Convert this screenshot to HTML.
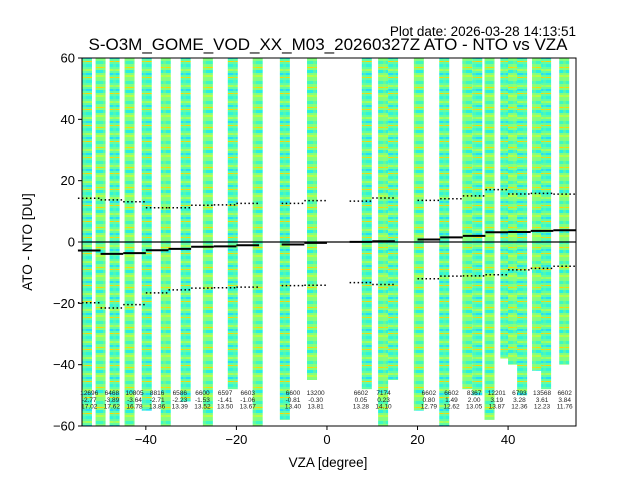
<!DOCTYPE html>
<html><head><meta charset="utf-8"><style>
html,body{margin:0;padding:0;background:#fff;}
svg{display:block;font-family:"Liberation Sans","DejaVu Sans",sans-serif;}
</style></head><body>
<svg id="chart" width="640" height="480" viewBox="0 0 640 480">
<defs>
<pattern id="stripesA" width="10" height="16" patternUnits="userSpaceOnUse">
<rect width="10" height="16" fill="#5efca8"/>
<rect y="0" width="10" height="3" fill="#30f5d8"/>
<rect y="5" width="10" height="2" fill="#a8ff58"/>
<rect y="9" width="10" height="2" fill="#20e0f8"/>
<rect y="13" width="10" height="1" fill="#ffd400"/>
<rect x="3" y="0" width="3" height="16" fill="#70ff90" opacity="0.4"/>
</pattern>
<pattern id="stripesB" width="10" height="20" patternUnits="userSpaceOnUse">
<rect width="10" height="20" fill="#80ff80"/>
<rect y="1" width="10" height="3" fill="#40f8c0"/>
<rect y="7" width="10" height="1" fill="#ffd800"/>
<rect y="10" width="10" height="3" fill="#28f0e0"/>
<rect y="15" width="10" height="2" fill="#b8ff48"/>
<rect x="3" y="0" width="3" height="20" fill="#90ff70" opacity="0.4"/>
</pattern>
</defs>
<g id="cols"></g>
<g id="stats"></g>
<rect x="82" y="58" width="494" height="368" fill="none" stroke="#000" stroke-width="1"/>
<g id="axes"></g>
<g id="labels" font-size="6.5" fill="#222" text-anchor="middle"></g>
<text x="576" y="36" font-size="13.5" text-anchor="end">Plot date: 2026-03-28 14:13:51</text>
<text x="328" y="50" font-size="17" text-anchor="middle">S-O3M_GOME_VOD_XX_M03_20260327Z ATO - NTO vs VZA</text>
<text x="328" y="467" font-size="13.5" text-anchor="middle">VZA [degree]</text>
<text transform="translate(32,242) rotate(-90)" font-size="13.5" text-anchor="middle">ATO - NTO [DU]</text>
</svg>
<script>
const colX=[-53.0,-50.0,-46.9,-43.6,-39.8,-35.6,-31.2,-26.3,-20.8,-15.3,-9.3,-3.3,8.8,12.4,14.6,20.3,25.9,31.0,33.2,35.9,39.4,41.1,43.1,46.4,48.4,52.4];
const colBottom=[-60,-60,-60,-60,-55,-60,-52,-60,-48,-60,-58,-45,-48,-60,-45,-55,-60,-48,-50,-58,-38,-40,-50,-42,-48,-40];
const binCenters=[-52.5,-47.5,-42.5,-37.5,-32.5,-27.5,-22.5,-17.5,-7.5,-2.5,7.5,12.5,22.5,27.5,32.5,37.5,42.5,47.5,52.5];
const binCounts=[12696,6468,10805,8816,6586,6600,6597,6603,6600,13200,6602,7174,6602,6602,8367,12201,6793,13568,6602];
const binMeans=[-2.77,-3.89,-3.64,-2.71,-2.23,-1.53,-1.41,-1.06,-0.81,-0.30,0.05,0.23,0.80,1.49,2.00,3.19,3.28,3.61,3.84];
const binStds=[17.02,17.62,16.78,13.86,13.39,13.52,13.50,13.67,13.40,13.81,13.28,14.10,12.79,12.62,13.05,13.87,12.36,12.23,11.76];
const xTicks=[-40,-20,0,20,40];
const yTicks=[-60,-40,-20,0,20,40,60];

const NS="http://www.w3.org/2000/svg";
const X=v=>82+(v+54.1)*494/109.1;
const Y=v=>242-v*368/120;
function mk(tag,attrs,parent){const e=document.createElementNS(NS,tag);for(const k in attrs)e.setAttribute(k,attrs[k]);parent.appendChild(e);return e;}

const cols=document.getElementById('cols');
colX.forEach((c,i)=>{
  const r=mk('rect',{x:X(c)-5,y:Y(60),width:10,height:Y(colBottom[i])-Y(60),fill:i%2?'url(#stripesB)':'url(#stripesA)'},cols);
  
  
});

const st=document.getElementById('stats');
const z=mk('line',{x1:82,x2:576,y1:Y(0),y2:Y(0),stroke:'#000','stroke-width':1.2},st);


binCenters.forEach((c,i)=>{
  const x1=X(c-2.5),x2=X(c+2.5);
  const m=mk('line',{x1:x1,x2:x2,y1:Y(binMeans[i]),y2:Y(binMeans[i]),stroke:'#000','stroke-width':2},st);
  
  
  [binMeans[i]+binStds[i],binMeans[i]-binStds[i]].forEach(v=>{
    const d=mk('line',{x1:x1,x2:x2,y1:Y(v),y2:Y(v),stroke:'#000','stroke-width':1.5,'stroke-dasharray':'1.5,2.5'},st);
    
    
  });
});

const lab=document.getElementById('labels');
binCenters.forEach((c,i)=>{
  const t=mk('text',{x:X(c),y:395},lab);
  
  
  [String(binCounts[i]),binMeans[i].toFixed(2),binStds[i].toFixed(2)].forEach((s,j)=>{
    const ts=mk('tspan',{x:X(c),dy:j?6.8:0},t);ts.textContent=s;
  });
});

const ax=document.getElementById('axes');
xTicks.forEach(v=>{
  mk('line',{x1:X(v),x2:X(v),y1:426,y2:430,stroke:'#000'},ax);
  const t=mk('text',{x:X(v),y:444,'font-size':13,'text-anchor':'middle'},ax);
  t.textContent=v<0?'\u2212'+(-v):String(v);
  
  
});
yTicks.forEach(v=>{
  mk('line',{x1:78,x2:82,y1:Y(v),y2:Y(v),stroke:'#000'},ax);
  const t=mk('text',{x:75,y:Y(v)+4.5,'font-size':13,'text-anchor':'end'},ax);
  t.textContent=v<0?'\u2212'+(-v):String(v);
  
  
});
</script>
</body></html>
